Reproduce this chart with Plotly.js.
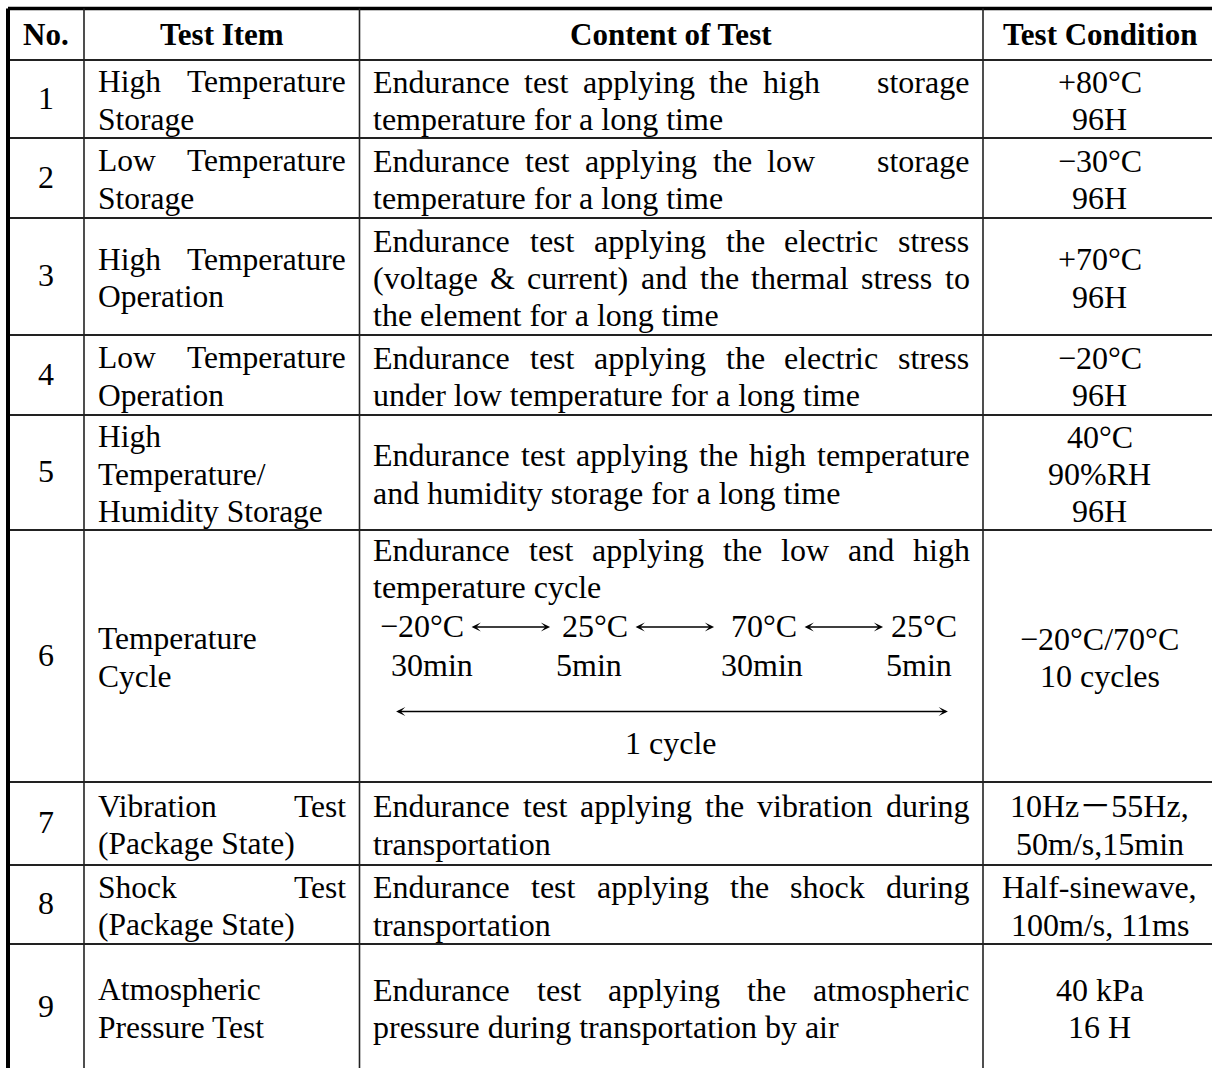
<!DOCTYPE html>
<html><head><meta charset="utf-8">
<script src="https://cdn.plot.ly/plotly-3.0.1.min.js"></script>
<style>html,body{margin:0;padding:0;background:#fff;overflow:hidden}</style>
</head><body><div id="chart" style="width:1212px;height:1068px"></div>
<script>
// ---------------- data ----------------
const headers = ['No.', 'Test Item', 'Content of Test', 'Test Condition'];
const testNo = ['1', '2', '3', '4', '5', '6', '7', '8', '9'];
const testItem = [
  ['High Temperature', 'Storage'],
  ['Low Temperature', 'Storage'],
  ['High Temperature', 'Operation'],
  ['Low Temperature', 'Operation'],
  ['High', 'Temperature/', 'Humidity Storage'],
  ['Temperature', 'Cycle'],
  ['Vibration Test', '(Package State)'],
  ['Shock Test', '(Package State)'],
  ['Atmospheric', 'Pressure Test']
];
const testContent = [
  ['Endurance test applying the high    storage', 'temperature for a long time'],
  ['Endurance test applying the low    storage', 'temperature for a long time'],
  ['Endurance test applying the electric stress', '(voltage & current) and the thermal stress to', 'the element for a long time'],
  ['Endurance test applying the electric stress', 'under low temperature for a long time'],
  ['Endurance test applying the high temperature', 'and humidity storage for a long time'],
  ['Endurance test applying the low and high', 'temperature cycle'],
  ['Endurance test applying the vibration during', 'transportation'],
  ['Endurance test applying the shock during', 'transportation'],
  ['Endurance test applying the atmospheric', 'pressure during transportation by air']
];
const testCondition = [
  ['+80°C', '96H'],
  ['−30°C', '96H'],
  ['+70°C', '96H'],
  ['−20°C', '96H'],
  ['40°C', '90%RH', '96H'],
  ['−20°C/70°C', '10 cycles'],
  ['10Hz－55Hz,', '50m/s,15min'],
  ['Half-sinewave,', '100m/s, 11ms'],
  ['40 kPa', '16 H']
];
const cycleTemps = ['−20°C', '25°C', '70°C', '25°C'];
const cycleTimes = ['30min', '5min', '30min', '5min'];
const cycleSpan = '1 cycle';
const cycleRowIndex = 5;

// ---------------- layout geometry ----------------
const W = 1212, H = 1068;
const colEdges = [8, 84, 359.5, 983, 1216];
const rowEdges = [8.5, 60, 138, 218, 335, 415, 530, 782, 865, 944, 1070];
const pad = 13.5;
const LH = 37.4;
const DY = 1.5;
const FAM = '"Liberation Serif", "Times New Roman", "Noto Sans CJK SC", serif';
const sizeItem = 31.5, sizeBody = 32, sizeHead = 31;
// cycle diagram layout (relative to content-cell left edge / row top)
const cycTempC = [62.5, 235.5, 404.5, 564.5];
const cycTimeC = [72, 229, 402.5, 559.5];
const cycY = {l0: 19.5, l1: 56.5, temps: 96, times: 134.5, arrow: 181.5, span: 212.5};
const arrowGap = 6, arrowLen = 80;

const cv = document.createElement('canvas').getContext('2d');
function tw(s, size, bold) {
  cv.font = (bold ? 'bold ' : '') + size + 'px "Liberation Serif"';
  return cv.measureText(s).width;
}
const esc = s => s.replace(/&/g, '&amp;');

const ann = [];
function txt(x, y, s, size, anchor, bold) {
  ann.push({x: x, y: y, xref: 'x', yref: 'y', text: bold ? '<b>' + esc(s) + '</b>' : esc(s),
    showarrow: false, xanchor: anchor, yanchor: 'middle', borderpad: 0, borderwidth: 0,
    font: {family: FAM, size: size, color: '#000'}});
}
function lineY(r, i, n) {
  const top = rowEdges[r], bot = rowEdges[r + 1];
  return (top + bot) / 2 + (i - (n - 1) / 2) * LH + DY;
}
// justified paragraph lines: all but last stretched
function para(lines, r, c, size) {
  const L = colEdges[c] + pad, R = colEdges[c + 1] - pad;
  lines.forEach((ln, i) => {
    const y = lineY(r, i, lines.length);
    const parts = ln.split(/( +)/);
    const words = parts.filter((p, k) => k % 2 === 0);
    const runs = parts.filter((p, k) => k % 2 === 1).map(p => p.length);
    if (i === lines.length - 1 || words.length < 2) {
      txt(L, y, ln, size, 'left');
    } else {
      const sumW = words.reduce((a, w) => a + tw(w, size), 0);
      const units = runs.reduce((a, b) => a + b, 0);
      const g = (R - L - sumW) / units;
      let x = L;
      words.forEach((w, k) => {
        txt(x, y, w, size, 'left');
        x += tw(w, size) + (k < runs.length ? runs[k] * g : 0);
      });
    }
  });
}

// headers
headers.forEach((h, c) => txt((colEdges[c] + colEdges[c + 1]) / 2, lineY(0, 0, 1) - 1, h, sizeHead, 'center', true));

// body
testItem.forEach((lines, i) => para(lines, i + 1, 1, sizeItem));
testContent.forEach((lines, i) => {
  const r = i + 1;
  if (i === cycleRowIndex) {
    const L = colEdges[2] + pad, R = colEdges[3] - pad, top = rowEdges[r];
    const words = lines[0].split(' ');
    const sumW = words.reduce((a, w) => a + tw(w, sizeBody), 0);
    const g = (R - L - sumW) / (words.length - 1);
    let x = L;
    words.forEach(w => { txt(x, top + cycY.l0, w, sizeBody, 'left'); x += tw(w, sizeBody) + g; });
    txt(L, top + cycY.l1, lines[1], sizeBody, 'left');
  } else {
    para(lines, r, 2, sizeBody);
  }
});
testCondition.forEach((lines, i) => {
  const cx = (colEdges[3] + colEdges[4]) / 2;
  lines.forEach((ln, k) => txt(cx, lineY(i + 1, k, lines.length), ln, sizeBody, 'center'));
});

// cycle diagram
(function () {
  const r = cycleRowIndex + 1, top = rowEdges[r], L0 = colEdges[2];
  const arrow = (x1, x2, y) => ann.push({x: x2, y: y, ax: x1, ay: y, xref: 'x', yref: 'y', axref: 'x', ayref: 'y',
    text: '', showarrow: true, arrowside: 'end+start', arrowhead: 3, startarrowhead: 3,
    arrowsize: 1.1, startarrowsize: 1.1, arrowwidth: 1.4, arrowcolor: '#000', standoff: 0, startstandoff: 0});
  cycleTemps.forEach((t, k) => {
    const cx = L0 + cycTempC[k];
    txt(cx, top + cycY.temps, t, sizeBody, 'center');
    if (k < cycleTemps.length - 1) {
      const x1 = cx + tw(t, sizeBody) / 2 + arrowGap;
      arrow(x1, x1 + arrowLen, top + cycY.temps + 1);
    }
  });
  cycleTimes.forEach((t, k) => txt(L0 + cycTimeC[k], top + cycY.times, t, sizeBody, 'center'));
  const xa = L0 + cycTimeC[0] - tw(cycleTimes[0], sizeBody) / 2 + 4;
  const xb = L0 + cycTimeC[3] + tw(cycleTimes[3], sizeBody) / 2 - 4;
  arrow(xa, xb, top + cycY.arrow);
  txt((colEdges[2] + colEdges[3]) / 2, top + cycY.span, cycleSpan, sizeBody, 'center');
})();

// grid
const shapes = [];
const lc = '#222';
rowEdges.forEach((y, k) => shapes.push({type: 'line', xref: 'x', yref: 'y', x0: colEdges[0], x1: colEdges[4], y0: y, y1: y,
  line: {color: k === 0 ? '#000' : lc, width: k === 0 ? 3.5 : 1.8}}));
colEdges.forEach((x, k) => shapes.push({type: 'line', xref: 'x', yref: 'y', x0: x, x1: x, y0: rowEdges[0], y1: rowEdges[rowEdges.length - 1],
  line: {color: k === 0 ? '#000' : lc, width: k === 0 ? 4 : 1.6}}));

// number column as text trace
const noTrace = {
  type: 'scatter', mode: 'text', x: testNo.map(() => (colEdges[0] + colEdges[1]) / 2),
  y: testNo.map((n, i) => lineY(i + 1, 0, 1)), text: testNo, textposition: 'middle center',
  textfont: {family: FAM, size: sizeBody, color: '#000'}, hoverinfo: 'skip', showlegend: false, cliponaxis: false
};

Plotly.newPlot('chart', [noTrace], {
  width: W, height: H, margin: {l: 0, r: 0, t: 0, b: 0, pad: 0},
  paper_bgcolor: '#fff', plot_bgcolor: '#fff', showlegend: false,
  xaxis: {range: [0, W], visible: false, fixedrange: true},
  yaxis: {range: [H, 0], visible: false, fixedrange: true},
  shapes: shapes, annotations: ann
}, {staticPlot: true, displayModeBar: false});
</script></body></html>
